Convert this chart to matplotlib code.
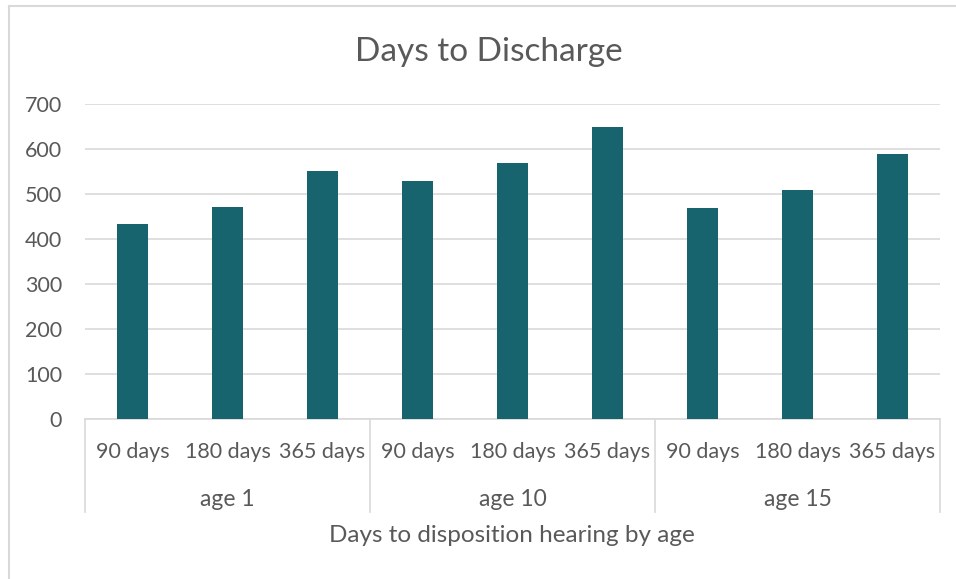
import matplotlib
matplotlib.use("Agg")
import matplotlib.pyplot as plt
from matplotlib.lines import Line2D

groups = ["age 1", "age 10", "age 15"]
subcats = ["90 days", "180 days", "365 days"]
values = [433, 471, 552, 530, 570, 649, 470, 509, 590]
yticks = [0, 100, 200, 300, 400, 500, 600, 700]

W, H = 956, 579
plt.rcParams['font.family'] = ['Lato', 'DejaVu Sans']
fig = plt.figure(figsize=(W/100, H/100), dpi=100)
txt = '#595959'
barc = '#17636e'
gridc = '#d9d9d9'

left, right, top, bottom = 85, 940, 104, 419
ax = fig.add_axes([left/W, 1-bottom/H, (right-left)/W, (bottom-top)/H])
n = len(values)
x = list(range(n))
ax.bar(x, values, width=0.32, color=barc, zorder=3)
ax.set_xlim(-0.5, n-0.5)
ax.set_ylim(0, 700)
ax.set_yticks(yticks)
ax.set_yticklabels([str(t) for t in yticks], color=txt, fontsize=15.5)
ax.tick_params(axis='y', length=0, pad=16.5)
ax.set_xticks([])
for s in ['top', 'right', 'left']:
    ax.spines[s].set_visible(False)
ax.spines['bottom'].set_color(gridc)
ax.spines['bottom'].set_linewidth(1.2)
ax.yaxis.grid(True, color=gridc, linewidth=1.2, zorder=0)
ax.set_axisbelow(True)

trans = ax.get_xaxis_transform()
labels = [s for g in groups for s in subcats]
for i, lab in enumerate(labels):
    ax.text(i, -33/315, lab, transform=trans, ha='center', va='center', color=txt, fontsize=15.5)
for gi, g in enumerate(groups):
    ax.text(gi*3 + 1, -80/315, g, transform=trans, ha='center', va='center', color=txt, fontsize=16.5)
for b in [-0.5, 2.5, 5.5, 8.5]:
    ax.add_line(Line2D([b, b], [0, -93/315], transform=trans, color=gridc, linewidth=1.2, clip_on=False))

fig.text(512/W, 1-535/H, "Days to disposition hearing by age", ha='center', va='center', color=txt, fontsize=17.5)
fig.text(489/W, 1-52/H, "Days to Discharge", ha='center', va='center', color=txt, fontsize=24)

# chart border (top and left visible)
fig.add_artist(Line2D([8.5/W, 1], [1-6/H, 1-6/H], transform=fig.transFigure, color=gridc, linewidth=1.5))
fig.add_artist(Line2D([8.5/W, 8.5/W], [0, 1-6/H], transform=fig.transFigure, color=gridc, linewidth=1.5))

fig.savefig("out.png", dpi=100, facecolor='white')
